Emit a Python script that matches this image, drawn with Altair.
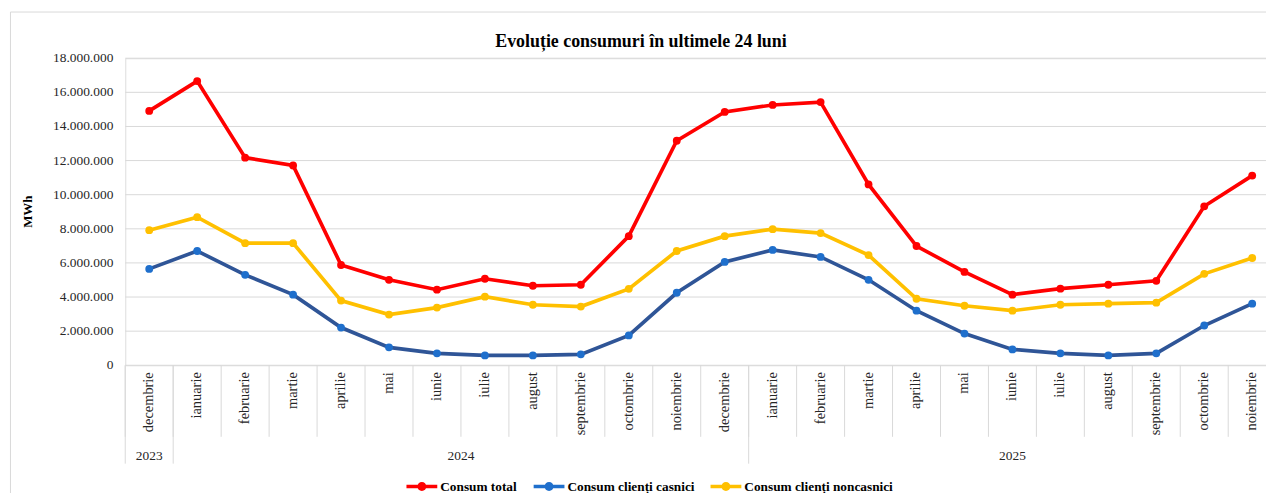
import altair as alt
import pandas as pd

# ---------------- data ----------------
months = ["decembrie", "ianuarie", "februarie", "martie", "aprilie", "mai", "iunie",
          "iulie", "august", "septembrie", "octombrie", "noiembrie", "decembrie",
          "ianuarie", "februarie", "martie", "aprilie", "mai", "iunie", "iulie",
          "august", "septembrie", "octombrie", "noiembrie"]
years = ["2023", "2024", "2025"]
year_first_month = [0, 1, 13]   # index of first month of each year
year_last_month = [0, 12, 23]

series_names = ["Consum total", "Consum clienți casnici", "Consum clienți noncasnici"]
consum_total = [14910000, 16660000, 12170000, 11710000, 5880000, 5010000, 4430000,
                5070000, 4660000, 4720000, 7570000, 13160000, 14850000, 15260000,
                15430000, 10600000, 6990000, 5470000, 4140000, 4490000, 4720000,
                4950000, 9320000, 11120000]
consum_casnici = [5650000, 6700000, 5300000, 4140000, 2210000, 1050000, 700000,
                  580000, 580000, 640000, 1750000, 4250000, 6060000, 6760000,
                  6350000, 5010000, 3200000, 1860000, 930000, 700000, 580000,
                  700000, 2330000, 3610000]
consum_noncasnici = [7920000, 8680000, 7160000, 7160000, 3790000, 2970000, 3380000,
                     4020000, 3550000, 3440000, 4480000, 6700000, 7570000, 7980000,
                     7750000, 6460000, 3900000, 3490000, 3200000, 3550000, 3610000,
                     3670000, 5360000, 6290000]
y_ticks = [0, 2000000, 4000000, 6000000, 8000000, 10000000, 12000000,
           14000000, 16000000, 18000000]

title = "Evoluție consumuri în ultimele 24 luni"
y_title = "MWh"

line_colors = ["#FF0000", "#2F5597", "#FFC000"]
point_colors = ["#FF0000", "#1F6FCC", "#FFC000"]

# ---------------- layout ----------------
PAD_L, PAD_T, PAD_R, PAD_B = 118, 49, 0, 127
W = 1148
H = 309
BAND = 48.26
x_dom = [-0.5, -0.5 + W / BAND]

SERIF = "Liberation Serif"
GRID = "#d9d9d9"

# ---------------- tables ----------------
rows = []
for name, vals in zip(series_names, [consum_total, consum_casnici, consum_noncasnici]):
    for i, v in enumerate(vals):
        rows.append({"idx": i, "series": name, "series_pt": name, "value": v})
df = pd.DataFrame(rows)

month_df = pd.DataFrame({"idx": list(range(len(months))), "month": months})
year_df = pd.DataFrame({"year": years,
                        "center": [(a + b) / 2 for a, b in zip(year_first_month, year_last_month)]})
year_sep_df = pd.DataFrame({"b": [f - 0.5 for f in year_first_month]})
bound_df = pd.DataFrame({"b": [i - 0.5 for i in range(len(months) + 1) if i - 0.5 < x_dom[1]]})
ytick_df = pd.DataFrame({"v": y_ticks,
                         "label": [f"{v:,}".replace(",", ".") for v in y_ticks]})

xscale = alt.Scale(domain=x_dom, nice=False, zero=False)
yscale = alt.Scale(domain=[0, 18000000], nice=False, zero=True)

# ---------------- layers ----------------
grid = alt.Chart(ytick_df).mark_rule(color=GRID, strokeWidth=1).encode(
    y=alt.Y("v:Q", scale=yscale, axis=None),
    x=alt.value(0),
    x2=alt.value(W),
)

ylabels = alt.Chart(ytick_df).mark_text(
    align="right", baseline="middle", font=SERIF, fontSize=13.5, color="#262626"
).encode(
    y=alt.Y("v:Q", scale=yscale, axis=None),
    x=alt.value(-12),
    text="label:N",
)

ytitle = alt.Chart(pd.DataFrame({"t": [y_title]})).mark_text(
    angle=270, align="center", baseline="middle", font=SERIF, fontSize=13,
    fontWeight="bold", color="#000000"
).encode(
    x=alt.value(-98),
    y=alt.value(H / 2),
    text="t:N",
)

month_ticks = alt.Chart(bound_df).mark_rule(color=GRID, strokeWidth=1).encode(
    x=alt.X("b:Q", scale=xscale, axis=None),
    y=alt.value(H),
    y2=alt.value(H + 72),
)

year_sep = alt.Chart(year_sep_df).mark_rule(color=GRID, strokeWidth=1).encode(
    x=alt.X("b:Q", scale=xscale, axis=None),
    y=alt.value(H),
    y2=alt.value(H + 99),
)

base = alt.Chart(df)

lines = base.mark_line(strokeWidth=3.7).encode(
    x=alt.X("idx:Q", scale=xscale, axis=None),
    y=alt.Y("value:Q", scale=yscale, axis=None),
    color=alt.Color("series:N",
                    scale=alt.Scale(domain=series_names, range=line_colors),
                    legend=None),
)

legend_symbol = ("M-1,-0.116L1,-0.116L1,0.116L-1,0.116Z"
                 "M0.29,0A0.29,0.29,0,1,1,-0.29,0A0.29,0.29,0,1,1,0.29,0Z")

points = base.mark_circle(size=62, opacity=1).encode(
    x=alt.X("idx:Q", scale=xscale, axis=None),
    y=alt.Y("value:Q", scale=yscale, axis=None),
    fill=alt.Fill("series_pt:N", sort=series_names,
                  scale=alt.Scale(range=point_colors),
                  legend=alt.Legend(title=None, orient="none", direction="horizontal",
                                    columns=3, legendX=283, legendY=415.5,
                                    symbolType=legend_symbol, symbolSize=961,
                                    symbolStrokeWidth=0, symbolOpacity=1,
                                    labelFont=SERIF, labelFontSize=13.4,
                                    labelFontWeight="bold", labelColor="#000000",
                                    labelOffset=3, columnPadding=16, padding=0,
                                    labelLimit=400)),
)

month_text = alt.Chart(month_df).mark_text(
    angle=270, align="right", baseline="middle", font=SERIF, fontSize=14.5,
    color="#262626"
).encode(
    x=alt.X("idx:Q", scale=xscale, axis=None),
    y=alt.value(H + 7),
    text="month:N",
)

year_text = alt.Chart(year_df).mark_text(
    align="center", baseline="middle", font=SERIF, fontSize=13.5, color="#262626"
).encode(
    x=alt.X("center:Q", scale=xscale, axis=None),
    y=alt.value(H + 91),
    text="year:N",
)

title_text = alt.Chart(pd.DataFrame({"t": [title]})).mark_text(
    align="center", baseline="alphabetic", font=SERIF, fontSize=18, fontWeight="bold",
    color="#000000"
).encode(
    x=alt.value(645 - 126),
    y=alt.value(46 - 57),
    text="t:N",
)

border = alt.Chart(pd.DataFrame({"k": [0]})).mark_rect(
    fill="transparent", stroke=GRID, strokeWidth=1
).encode(
    x=alt.value(10.5 - 126),
    x2=alt.value(W + 40),
    y=alt.value(10.5 - 57),
    y2=alt.value(H + 250),
)

chart = alt.layer(
    border, grid, month_ticks, year_sep, lines, points,
    ylabels, ytitle, month_text, year_text, title_text
).properties(
    width=W, height=H,
    autosize=alt.AutoSizeParams(type="none"),
    padding={"left": PAD_L, "top": PAD_T, "right": PAD_R, "bottom": PAD_B},
).configure_view(
    stroke=None
).configure(
    background="white"
)

chart.save("out.html", embed_options={"renderer": "svg", "actions": False})
